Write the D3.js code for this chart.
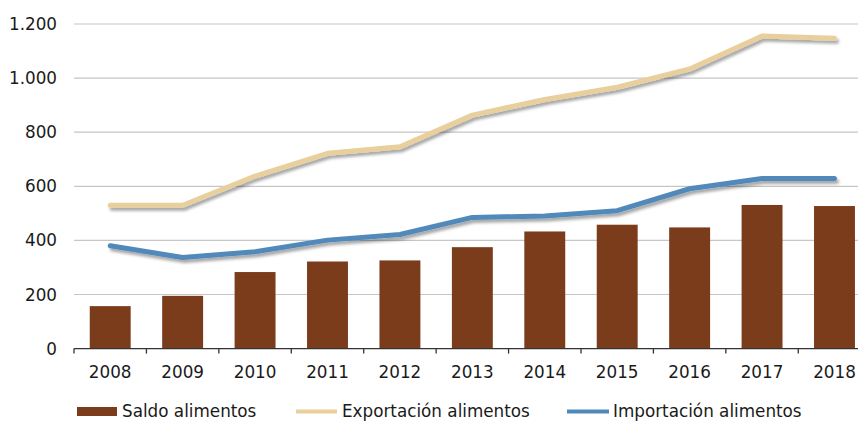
<!DOCTYPE html>
<html><head><meta charset="utf-8">
<script src="https://cdn.jsdelivr.net/npm/d3@7"></script>
<style>body{margin:0;background:#fff}svg{display:block}text{font-family:"DejaVu Sans",Verdana,sans-serif;fill:#1a1a1a}</style>
</head><body>
<svg id="c" width="858" height="421"></svg>
<script>
const years = ["2008","2009","2010","2011","2012","2013","2014","2015","2016","2017","2018"];
const saldo = [157,195,283,322,326,375,433,458,448,531,527];
const exportacion = [530,530,638,722,746,863,921,966,1034,1156,1147];
const importacion = [380,337,358,401,422,485,490,510,591,629,629];
const yTicks = [0,200,400,600,800,1000,1200];
const seriesNames = ["Saldo alimentos","Exportación alimentos","Importación alimentos"];
const colors = {bar:"#7B3C1B", exp:"#E8CF9C", imp:"#5189BB"};

const svg = d3.select("#c");
const x = d3.scaleBand().domain(years).range([74, 870.7]).padding(0);
const y = d3.scaleLinear().domain([0,1200]).range([348.6, 24]);
const fmt = v => d3.format(",")(v).replace(/,/g, ".");
const fs = 16.8;

const defs = svg.append("defs");
const f = defs.append("filter").attr("id","sh").attr("x","-10%").attr("y","-30%").attr("width","120%").attr("height","160%");
f.append("feDropShadow").attr("dx",2).attr("dy",3).attr("stdDeviation",1.8).attr("flood-color","#000").attr("flood-opacity",0.35);

// gridlines
svg.append("g").selectAll("line").data(yTicks.filter(d=>d>0)).join("line")
  .attr("x1",74).attr("x2",870).attr("y1",d=>y(d)).attr("y2",d=>y(d))
  .attr("stroke","#c6c6c6").attr("stroke-width",1.2);

// y labels
svg.append("g").selectAll("text").data(yTicks).join("text")
  .attr("x",57).attr("y",d=>y(d)).attr("dy","0.36em").attr("text-anchor","end")
  .attr("font-size",fs).text(fmt);

// bars
const bw = x.step()*0.565;
svg.append("g").selectAll("rect").data(saldo).join("rect")
  .attr("x",(d,i)=>x(years[i])+x.bandwidth()/2-bw/2).attr("width",bw)
  .attr("y",d=>y(d)).attr("height",d=>y(0)-y(d)).attr("fill",colors.bar);

// x axis
const ax = svg.append("g");
ax.append("line").attr("x1",74).attr("x2",870).attr("y1",y(0)).attr("y2",y(0)).attr("stroke","#333").attr("stroke-width",1.3);
const bounds = years.map(d=>x(d)).concat([x(years[years.length-1])+x.step()]);
ax.selectAll("line.t").data(bounds).join("line").attr("class","t")
  .attr("x1",d=>d).attr("x2",d=>d).attr("y1",y(0)).attr("y2",y(0)+5).attr("stroke","#333").attr("stroke-width",1.3);
ax.selectAll("text").data(years).join("text")
  .attr("x",d=>x(d)+x.bandwidth()/2).attr("y",377.5).attr("text-anchor","middle").attr("font-size",fs).text(d=>d);

// lines
const line = d3.line().x((d,i)=>x(years[i])+x.bandwidth()/2).y(d=>y(d));
svg.append("path").datum(exportacion).attr("d",line).attr("fill","none").attr("stroke",colors.exp)
  .attr("stroke-width",5).attr("stroke-linecap","round").attr("stroke-linejoin","round").attr("filter","url(#sh)");
svg.append("path").datum(importacion).attr("d",line).attr("fill","none").attr("stroke",colors.imp)
  .attr("stroke-width",5).attr("stroke-linecap","round").attr("stroke-linejoin","round").attr("filter","url(#sh)");

// legend
const lg = svg.append("g");
lg.append("rect").attr("x",77).attr("y",407).attr("width",40).attr("height",9).attr("fill",colors.bar);
lg.append("text").attr("x",122).attr("y",416.5).attr("font-size",fs).text(seriesNames[0]);
lg.append("line").attr("x1",296).attr("x2",337).attr("y1",411.5).attr("y2",411.5).attr("stroke",colors.exp).attr("stroke-width",4);
lg.append("text").attr("x",342).attr("y",416.5).attr("font-size",fs).text(seriesNames[1]);
lg.append("line").attr("x1",567).attr("x2",609).attr("y1",411.5).attr("y2",411.5).attr("stroke",colors.imp).attr("stroke-width",4);
lg.append("text").attr("x",613).attr("y",416.5).attr("font-size",fs).text(seriesNames[2]);
</script>
</body></html>
